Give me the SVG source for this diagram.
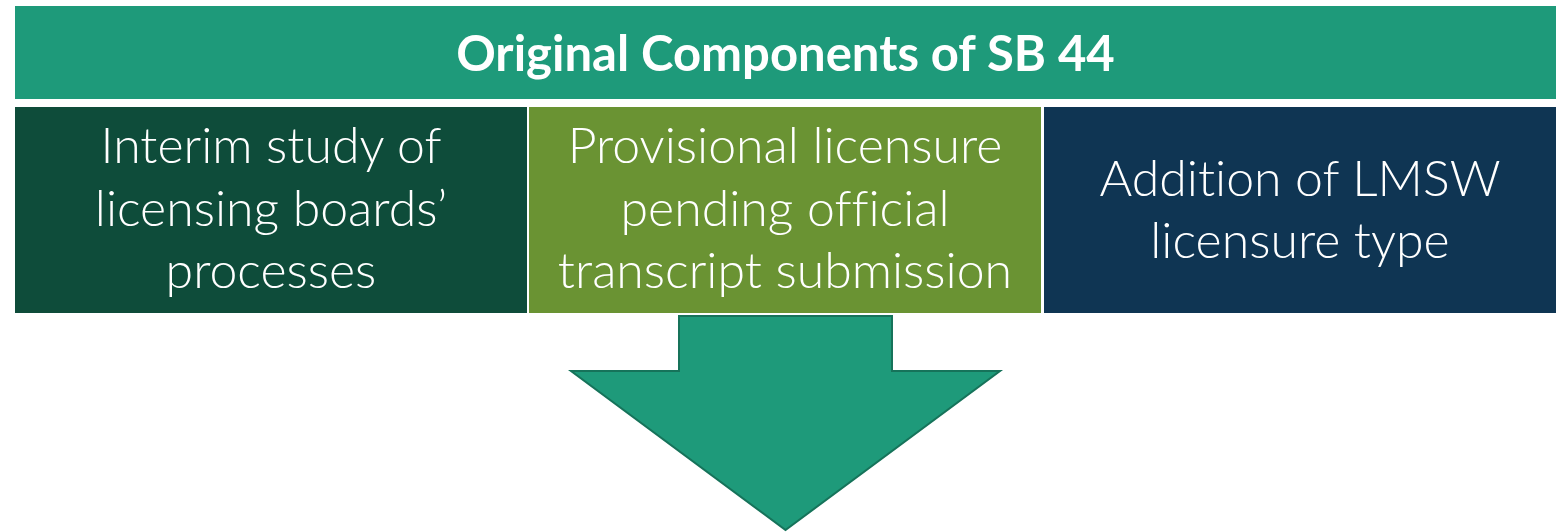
<svg xmlns="http://www.w3.org/2000/svg" width="1565" height="532" viewBox="0 0 1565 532">
<style>
.hdr{font-family:Lato,"Liberation Sans",sans-serif;font-weight:700;font-size:49px;fill:#fff;text-anchor:middle;font-variant-ligatures:none}
.lbl{font-family:Lato,"Liberation Sans",sans-serif;font-weight:300;font-size:50px;fill:#fff;text-anchor:middle;font-variant-ligatures:none}
</style>
<rect width="1565" height="532" fill="#fff"/>
<g id="header">
<rect x="15" y="6" width="1541" height="93" fill="#1e9a7a"/>
<text class="hdr" x="785.5" y="71">Original Components of SB 44</text>
</g>
<g id="interim">
<rect x="15" y="107" width="512" height="206" fill="#0e4c3a"/>
<text class="lbl" x="271" y="163">Interim study of</text>
<text class="lbl" x="271" y="225.5">licensing boards’</text>
<text class="lbl" x="271" y="288">processes</text>
</g>
<g id="provisional">
<rect x="529" y="107" width="512" height="206" fill="#6a9333"/>
<text class="lbl" x="785" y="163">Provisional licensure</text>
<text class="lbl" x="785" y="225.5">pending official</text>
<text class="lbl" x="785" y="288">transcript submission</text>
</g>
<g id="lmsw">
<rect x="1044" y="107" width="512" height="206" fill="#0f3553"/>
<text class="lbl" x="1300" y="196">Addition of LMSW</text>
<text class="lbl" x="1300" y="258">licensure type</text>
</g>
<g id="connectors">
<polygon points="679,316 892,316 892,371 1000,371 785.5,530 571,371 679,371" fill="#1e9a7a" stroke="#16735a" stroke-width="2"/>
</g>
</svg>
